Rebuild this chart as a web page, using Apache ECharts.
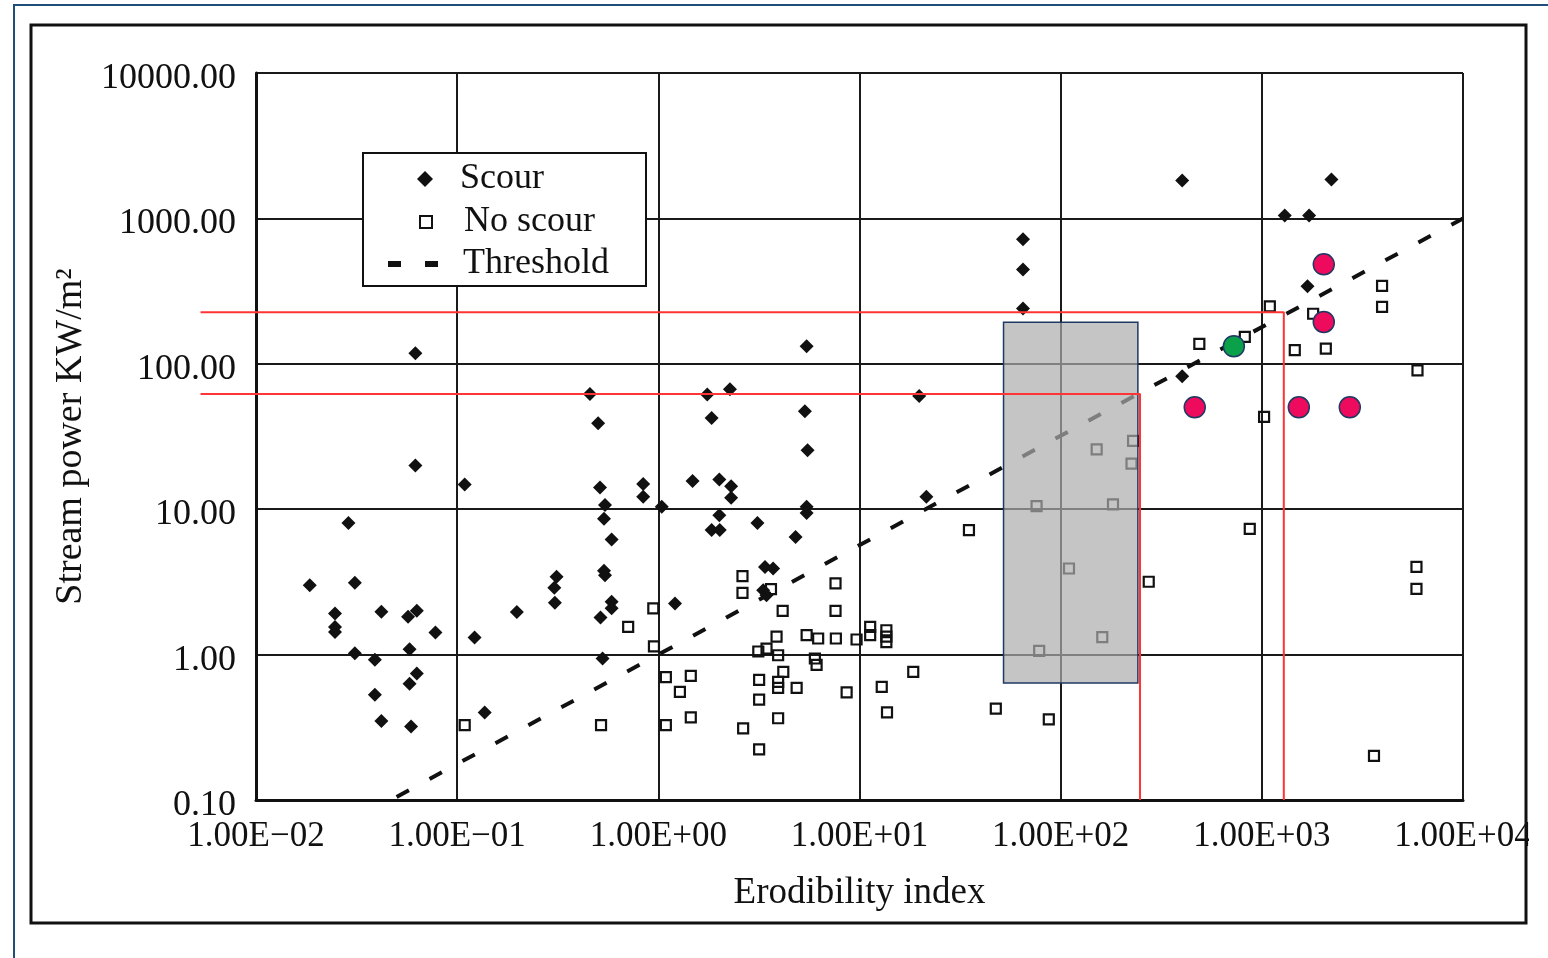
<!DOCTYPE html>
<html>
<head>
<meta charset="utf-8">
<title>Stream power vs erodibility index</title>
<script src="https://cdn.jsdelivr.net/npm/echarts@6/dist/echarts.min.js"></script>
<style>
html, body { margin: 0; padding: 0; background: #fff; }
#chart { width: 1548px; height: 958px; }
</style>
</head>
<body>
<div id="chart"></div>
<script>
// values
var xTickLabels = ['1.00E\u221202', '1.00E\u221201', '1.00E+00', '1.00E+01', '1.00E+02', '1.00E+03', '1.00E+04'];
var yTickLabels = ['0.10', '1.00', '10.00', '100.00', '1000.00', '10000.00'];

// [erodibility index, stream power]
var scour = [
	[0.062, 118], [0.457, 62], [0.502, 39], [0.062, 20], [0.109, 14.8], [0.513, 14.1],
	[0.841, 14.9], [0.841, 12.2], [1.04, 10.4], [0.543, 10.7], [0.537, 8.6], [0.586, 6.2],
	[0.537, 3.77], [0.543, 3.52], [0.312, 3.43], [0.304, 2.88], [0.306, 2.27], [0.586, 2.31],
	[0.586, 2.08], [0.516, 1.80], [0.198, 1.96], [0.122, 1.31], [0.078, 1.42], [0.063, 2.0],
	[0.057, 1.82], [0.058, 1.09], [0.042, 1.97], [0.031, 3.12], [0.0185, 3.0], [0.0247, 1.92],
	[0.0247, 1.55], [0.0247, 1.43], [0.0288, 8.05], [0.031, 1.02], [0.039, 0.92], [0.063, 0.74],
	[0.058, 0.63], [0.039, 0.53], [0.042, 0.35], [0.059, 0.32], [0.528, 0.94], [0.137, 0.40],
	[1.21, 2.25], [65, 718], [65, 446], [65, 240], [5.46, 132], [1.75, 61.4], [2.27, 66.8],
	[1.84, 42.4], [5.35, 47.2], [19.8, 60.1], [5.52, 25.4], [1.48, 15.6], [2.01, 16.0],
	[2.30, 14.4], [2.30, 12.0], [5.46, 10.4], [5.46, 9.4], [2.01, 9.1], [1.84, 7.2], [2.02, 7.2],
	[3.11, 8.05], [4.81, 6.45], [21.5, 12.2], [3.39, 4.01], [3.72, 3.91], [3.32, 2.77],
	[3.45, 2.56], [402, 1824], [2218, 1854], [1300, 1049], [1718, 1049], [1687, 341], [402, 82]
];
var noScour = [
	[0.109, 0.327], [0.519, 0.327], [0.708, 1.55], [0.944, 2.08], [0.951, 1.14], [1.09, 0.70],
	[1.09, 0.327], [1.45, 0.714], [1.28, 0.554], [1.45, 0.370], [2.62, 3.46], [2.62, 2.66],
	[3.63, 2.82], [4.15, 2.00], [7.60, 3.09], [7.60, 2.00], [3.87, 1.33], [5.46, 1.36],
	[6.23, 1.29], [7.63, 1.29], [9.67, 1.27], [11.3, 1.55], [11.3, 1.36], [13.6, 1.47],
	[13.6, 1.33], [13.6, 1.22], [3.14, 1.05], [3.45, 1.10], [3.94, 0.99], [6.00, 0.94],
	[6.12, 0.85], [4.18, 0.76], [3.17, 0.67], [3.94, 0.65], [3.94, 0.59], [4.87, 0.59],
	[8.63, 0.55], [3.17, 0.49], [3.94, 0.365], [2.64, 0.311], [3.17, 0.223], [12.9, 0.60],
	[13.7, 0.40], [18.5, 0.76], [35.0, 7.17], [47.6, 0.425], [87.3, 0.359], [75.9, 10.5],
	[78.2, 1.06], [110, 3.91], [161, 1.32], [151, 25.8], [229, 29.5], [225, 20.6], [182, 10.8],
	[274, 3.17], [871, 7.32], [1026, 43.1], [5870, 4.01], [5870, 2.83], [3610, 0.201],
	[3960, 343], [3960, 246], [1096, 248], [1799, 221], [823, 153], [489, 137], [1458, 124],
	[2080, 127], [5940, 90.2]
];
var threshold = [[0.05, 0.105], [1, 1.0], [100, 32], [10000, 1000]];

// overlays added on top of the scan
var sitesRed = [[2032, 483], [2032, 194], [464, 50.2], [1527, 50.2], [2737, 50.2]];
var sitesGreen = [[726, 132]];
var redUpper = [[0.0053, 226], [1286, 226], [1286, 0.1]];
var redLower = [[0.0053, 62], [248, 62], [248, 0.1]];
var greyBox = [[52, 193, 242, 0.637]];

var serif = "'Liberation Serif', 'Times New Roman', serif";
var ink = '#111';
var red = '#ff3535';

var myChart = echarts.init(document.getElementById('chart'));

function legendFor(name, left, top, w, h, pad, icon) {
	var d = { name: name };
	if (icon) d.icon = icon;
	return {
		data: [d],
		left: left,
		top: top,
		padding: 0,
		itemWidth: w,
		itemHeight: h,
		selectedMode: false,
		z: 5,
		textStyle: { fontFamily: serif, fontSize: 36, color: ink, padding: [0, 0, 0, pad] }
	};
}

var option = {
	animation: false,
	backgroundColor: '#fff',
	grid: { left: 256, top: 73, width: 1207, height: 727 },
	xAxis: {
		type: 'log',
		logBase: 10,
		min: 0.01,
		max: 10000,
		splitNumber: 6,
		name: 'Erodibility index',
		nameLocation: 'middle',
		nameGap: 75,
		nameTextStyle: { fontFamily: serif, fontSize: 37, color: ink },
		axisLine: { show: true, onZero: false, lineStyle: { color: ink, width: 3 } },
		axisTick: { show: false },
		axisLabel: {
			fontFamily: serif, fontSize: 35, color: ink, margin: 19,
			formatter: function (v) {
				return xTickLabels[Math.round(Math.log10(v)) + 2];
			}
		},
		splitLine: { show: true, lineStyle: { color: '#1a1a1a', width: 2 } }
	},
	yAxis: {
		type: 'log',
		logBase: 10,
		min: 0.1,
		max: 10000,
		splitNumber: 5,
		name: 'Stream power KW/m\u00b2',
		nameLocation: 'middle',
		nameGap: 164,
		nameRotate: 90,
		nameTextStyle: { fontFamily: serif, fontSize: 38, color: ink },
		axisLine: { show: true, onZero: false, lineStyle: { color: ink, width: 3 } },
		axisTick: { show: false },
		axisLabel: {
			color: ink, margin: 20,
			formatter: function (v) {
				return '{t|' + yTickLabels[Math.round(Math.log10(v)) + 1] + '}';
			},
			rich: {
				t: { fontFamily: serif, fontSize: 36, color: ink, padding: [11, 0, 0, 0] }
			}
		},
		splitLine: { show: true, lineStyle: { color: '#1a1a1a', width: 2 } }
	},
	legend: [
		legendFor('Scour', 417, 161, 16, 16, 22),
		legendFor('No scour', 419, 204, 12, 12, 27),
		legendFor('Threshold', 388, 246, 50, 6, 20, 'path://M0,0h13v6h-13zM37,0h13v6h-13z')
	],
	series: [
		{
			name: 'Scour',
			type: 'scatter',
			data: scour,
			symbol: 'diamond',
			symbolSize: 14,
			itemStyle: { color: ink, opacity: 1 },
			z: 2
		},
		{
			name: 'No scour',
			type: 'scatter',
			data: noScour,
			symbol: 'rect',
			symbolSize: 10,
			itemStyle: { color: 'rgba(255,255,255,0)', borderColor: ink, borderWidth: 2.2, opacity: 1 },
			z: 2
		},
		{
			name: 'Threshold',
			type: 'line',
			data: threshold,
			symbol: 'none',
			lineStyle: { color: ink, width: 4, type: [14, 23.5] },
			itemStyle: { color: ink },
			z: 2
		},
		{
			name: 'grey band',
			type: 'custom',
			data: greyBox,
			encode: { x: [0, 2], y: [1, 3] },
			renderItem: function (params, api) {
				var p1 = api.coord([api.value(0), api.value(1)]);
				var p2 = api.coord([api.value(2), api.value(3)]);
				return {
					type: 'rect',
					shape: { x: p1[0], y: p1[1], width: p2[0] - p1[0], height: p2[1] - p1[1] },
					style: { fill: 'rgba(173,173,173,0.7)', stroke: '#1f3864', lineWidth: 1.5 }
				};
			},
			z: 3
		},
		{
			name: 'upper limit',
			type: 'line',
			data: redUpper,
			symbol: 'none',
			clip: false,
			lineStyle: { color: red, width: 2 },
			z: 4
		},
		{
			name: 'lower limit',
			type: 'line',
			data: redLower,
			symbol: 'none',
			clip: false,
			lineStyle: { color: red, width: 2 },
			z: 4
		},
		{
			name: 'sites',
			type: 'scatter',
			data: sitesRed,
			symbol: 'circle',
			symbolSize: 21,
			itemStyle: { color: '#ee0a5c', borderColor: '#1f3864', borderWidth: 1.5, opacity: 1 },
			z: 5
		},
		{
			name: 'site',
			type: 'scatter',
			data: sitesGreen,
			symbol: 'circle',
			symbolSize: 21,
			itemStyle: { color: '#0aa14a', borderColor: '#1f3864', borderWidth: 1.5, opacity: 1 },
			z: 5
		}
	],
	graphic: [
		{ id: 'blue', type: 'polyline', z: 1, shape: { points: [[14, 958], [14, 5], [1548, 5]] },
			style: { stroke: '#1f4e79', lineWidth: 2, fill: null } },
		{ id: 'legendBox', type: 'rect', z: 3, shape: { x: 363, y: 153, width: 283, height: 133 },
			style: { fill: '#fff', stroke: ink, lineWidth: 2 } },
		{ id: 'clipRight', type: 'rect', z: 9, shape: { x: 1529, y: 26, width: 19, height: 932 },
			style: { fill: '#fff' } },
		{ id: 'frame', type: 'rect', z: 10, shape: { x: 31, y: 25, width: 1495, height: 898 },
			style: { fill: null, stroke: ink, lineWidth: 3 } }
	]
};

myChart.setOption(option, true);

// the red limit lines start left of the y axis; the log axis clamps there,
// so carry them on past the axis using the axis' own decade width
var x0 = myChart.convertToPixel({ xAxisIndex: 0 }, 0.01);
var decade = myChart.convertToPixel({ xAxisIndex: 0 }, 0.1) - x0;
var ext = [redUpper, redLower].map(function (line, i) {
	var py = myChart.convertToPixel({ yAxisIndex: 0 }, line[0][1]);
	var px = x0 + (Math.log10(line[0][0]) + 2) * decade;
	return {
		id: 'redExt' + i, type: 'line', z: 4,
		shape: { x1: px, y1: py, x2: x0, y2: py },
		style: { stroke: red, lineWidth: 2 }
	};
});
myChart.setOption({ graphic: ext });
</script>
</body>
</html>
